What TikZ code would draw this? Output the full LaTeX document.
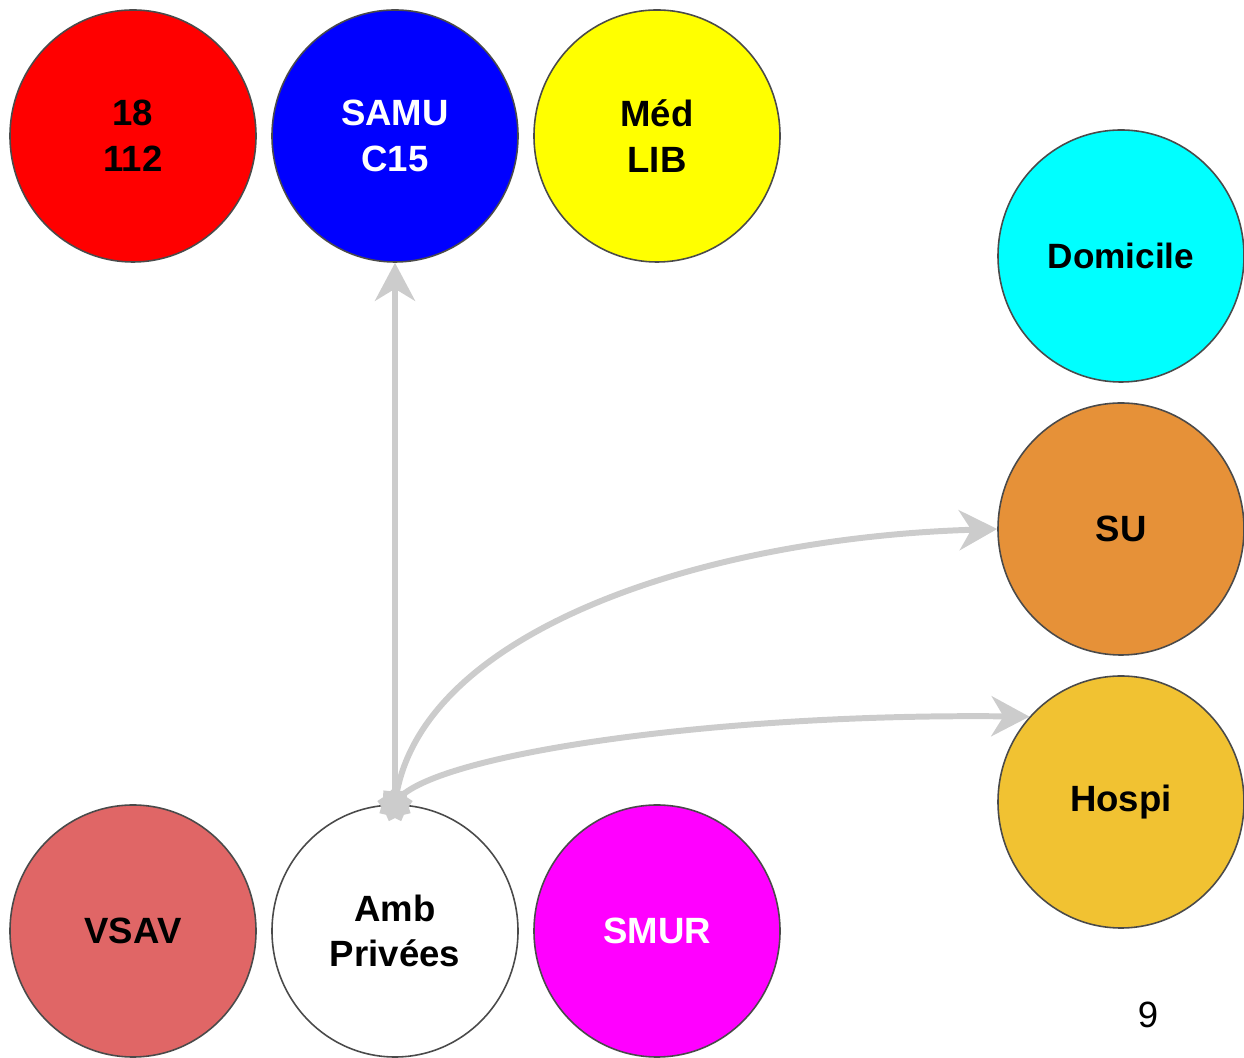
\documentclass[tikz,border=0pt]{standalone}
\usepackage{fontspec}
\setmainfont{Liberation Sans}
\usetikzlibrary{arrows.meta,shapes.geometric}
\definecolor{rouge}{HTML}{FF0000}
\definecolor{bleu}{HTML}{0000FF}
\definecolor{jaune}{HTML}{FFFF00}
\definecolor{turquoise}{HTML}{00FFFF}
\definecolor{orangesu}{HTML}{E69138}
\definecolor{ocre}{HTML}{F1C232}
\definecolor{rose}{HTML}{E06666}
\definecolor{fuchsia}{HTML}{FF00FF}
\definecolor{bord}{HTML}{4A4A4A}
\definecolor{fleche}{HTML}{CCCCCC}
\tikzset{
	rond/.style={ellipse, draw=bord, line width=0.9pt, minimum width=4.92cm, minimum height=5.04cm, align=center, font=\fontsize{20.8}{26}\selectfont\bfseries, inner sep=0pt},
	lien/.style={draw=fleche, line width=3.4pt, -{Stealth[length=0.76cm, width=0.8cm, inset=0.24cm]}}
}

\begin{document}
\begin{tikzpicture}
			%%%%% START %%%%%
			\useasboundingbox (0, 0) rectangle (24.88, 21.16);
			
			% ligne du haut
			\node[rond, fill=rouge] (centre) at (2.66, 18.44) {18\\112};
			\node[rond, fill=bleu, text=white] (samu) at (7.90, 18.44) {SAMU\\C15};
			\node[rond, fill=jaune] (med) at (13.14, 18.44) {Méd\\LIB};
			
			% destinations
			\node[rond, fill=turquoise, font=\fontsize{20}{26}\selectfont\bfseries] (domicile) at (22.42, 16.04) {Domicile};
			\node[rond, fill=orangesu] (su) at (22.42, 10.58) {SU};
			\node[rond, fill=ocre] (hospi) at (22.42, 5.12) {Hospi};
			
			% ligne du bas
			\node[rond, fill=rose] (vsav) at (2.66, 2.54) {VSAV};
			\node[rond, fill=white] (amb) at (7.90, 2.54) {Amb\\Privées};
			\node[rond, fill=fuchsia, text=white] (smur) at (13.14, 2.54) {SMUR};
			
			\node[font=\fontsize{20.8}{24}\selectfont] (page) at (22.96, 0.86) {9};
			
			% fleches
			\coordinate (depart) at (amb.north);
			\draw[lien] (depart) -- (samu.south);
			\draw[lien] (depart) .. controls (8.3, 8.5) and (14, 10.4) .. (su.west);
			\draw[lien] (depart) .. controls (8.3, 6.0) and (14, 6.9) .. (hospi.137);
			\node[star, star points=9, star point ratio=1.3, fill=fleche, minimum size=0.72cm, inner sep=0pt] (pointe) at (depart) {};
			
			%%%%% END %%%%%
		\end{tikzpicture}
\end{document}
